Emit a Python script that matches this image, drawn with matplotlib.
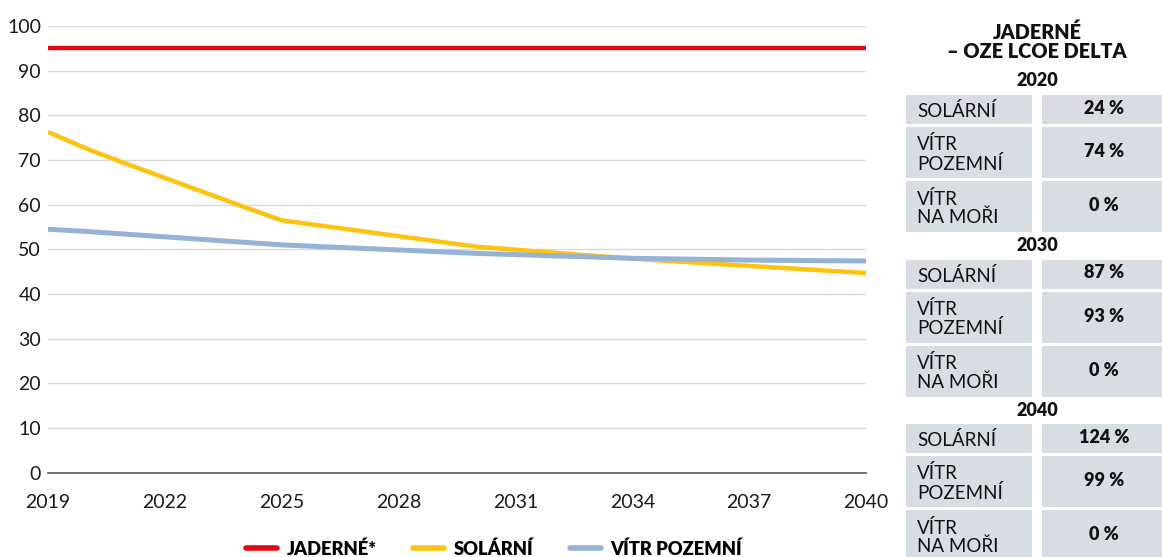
import matplotlib.pyplot as plt
from matplotlib.patches import Rectangle

plt.rcParams['font.family'] = ['Lato', 'DejaVu Sans']

# line chart data
years = [2019, 2020, 2021, 2022, 2023, 2024, 2025, 2030, 2034, 2037, 2040]
jaderne = [95, 95, 95, 95, 95, 95, 95, 95, 95, 95, 95]
solarni = [76.3, 72.5, 69.2, 66.0, 62.8, 59.6, 56.5, 50.6, 47.9, 46.3, 44.7]
vitr_pozemni = [54.5, 54.0, 53.4, 52.8, 52.2, 51.6, 51.0, 49.1, 48.0, 47.6, 47.4]
xticks = [2019, 2022, 2025, 2028, 2031, 2034, 2037, 2040]
yticks = [0, 10, 20, 30, 40, 50, 60, 70, 80, 90, 100]

# delta table
table_title = 'JADERNÉ\n– OZE LCOE DELTA'
table_years = ['2020', '2030', '2040']
table_labels = ['SOLÁRNÍ', 'VÍTR\nPOZEMNÍ', 'VÍTR\nNA MOŘI']
delta = {
    '2020': [24, 74, 0],
    '2030': [87, 93, 0],
    '2040': [124, 99, 0],
}

RED = '#e30613'
YELLOW = '#ffc20e'
BLUE = '#95b3d6'
CELL = '#d7dde3'

fig = plt.figure(figsize=(11.62, 5.57), dpi=100)
W, H = 1162, 557
ax = fig.add_axes([48 / W, 1 - 472.7 / H, (866 - 48) / W, (472.7 - 26) / H])

ax.plot(years, jaderne, color=RED, lw=3.2, solid_capstyle='butt', label='JADERNÉ*')
ax.plot(years, solarni, color=YELLOW, lw=3.2, solid_capstyle='butt', label='SOLÁRNÍ')
ax.plot(years, vitr_pozemni, color=BLUE, lw=3.6, solid_capstyle='butt', label='VÍTR POZEMNÍ')

ax.set_xlim(2019, 2040)
ax.set_ylim(0, 100)
ax.set_xticks(xticks)
ax.set_yticks(yticks)
ax.tick_params(axis='both', length=0, labelsize=14, colors='#1a1a1a')
ax.tick_params(axis='x', pad=15)
ax.tick_params(axis='y', pad=5)
ax.grid(axis='y', color='#d9d9d9', lw=1)
ax.set_axisbelow(True)
for s in ['left', 'right', 'top']:
    ax.spines[s].set_visible(False)
ax.spines['bottom'].set_color('#595959')
ax.spines['bottom'].set_linewidth(1.2)
ax.spines['bottom'].set_zorder(5)

leg = fig.legend(loc='center', bbox_to_anchor=(494 / W, 1 - 549 / H), ncol=3,
                 frameon=False, handlelength=1.7, handletextpad=0.5,
                 columnspacing=2.0, prop={'weight': 'heavy', 'size': 13.2})
for line in leg.get_lines():
    line.set_linewidth(4)
    line.set_solid_capstyle('round')

# table overlay in pixel coordinates
tab = fig.add_axes([0, 0, 1, 1])
tab.set_xlim(0, W)
tab.set_ylim(H, 0)
tab.axis('off')

tab.text(1037, 42, table_title, ha='center', va='center', fontsize=14.3,
         fontweight='heavy', linespacing=1.02, color='#111111')

row_h = [29, 51, 51]
top = 95
for yr in table_years:
    tab.text(1037, top - 14, yr, ha='center', va='center', fontsize=13,
             fontweight='heavy', color='#111111')
    y = top
    for lab, val, h in zip(table_labels, delta[yr], row_h):
        tab.add_patch(Rectangle((906, y), 126, h, color=CELL, lw=0))
        tab.add_patch(Rectangle((1042, y), 130, h, color=CELL, lw=0))
        tab.text(917, y + h / 2 + 1.5, lab, ha='left', va='center', fontsize=13.5,
                 linespacing=1.1, color='#111111')
        tab.text(1104, y + h / 2 - 1, f'{val} %', ha='center', va='center',
                 fontsize=13, fontweight='heavy', color='#111111')
        y += h + 3
    top += 164.5

fig.savefig('out.png', dpi=100)
